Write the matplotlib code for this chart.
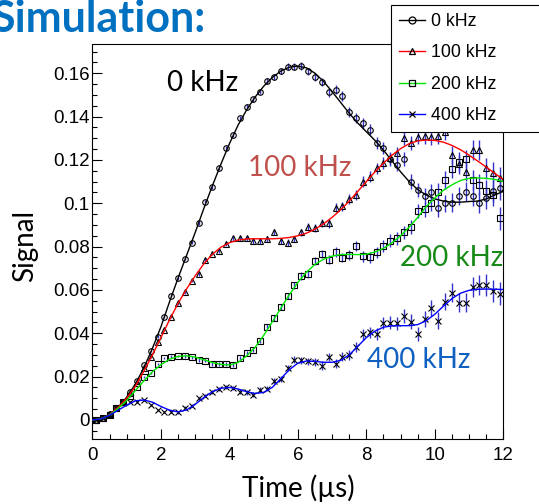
import numpy as np
from matplotlib import pyplot as plt
from matplotlib.ticker import MultipleLocator, FuncFormatter
from matplotlib.lines import Line2D

# sample times (us) of the simulated points and of the fitted curves
t = np.arange(0.1, 12.0, 0.2)
t_fit = np.arange(0.0, 12.01, 0.25)

labels = ["0 kHz", "100 kHz", "200 kHz", "400 kHz"]

sig0 = [0.0000, 0.0008, 0.0028, 0.0057, 0.0085, 0.0128, 0.0180, 0.0254, 0.0318, 0.0385,
        0.0477, 0.0574, 0.0654, 0.0743, 0.0818, 0.0908, 0.1007, 0.1077, 0.1161, 0.1254,
        0.1315, 0.1392, 0.1446, 0.1480, 0.1515, 0.1564, 0.1584, 0.1612, 0.1630, 0.1630,
        0.1634, 0.1609, 0.1584, 0.1560, 0.1512, 0.1524, 0.1496, 0.1423, 0.1393, 0.1369,
        0.1340, 0.1279, 0.1254, 0.1203, 0.1177, 0.1204, 0.1100, 0.1061, 0.1034, 0.1054,
        0.0977, 0.1000, 0.1003, 0.1034, 0.1054, 0.1034, 0.1003, 0.1023, 0.1058, 0.1069]
sig100 = [0.0000, 0.0008, 0.0028, 0.0055, 0.0085, 0.0124, 0.0169, 0.0238, 0.0292, 0.0358,
          0.0414, 0.0477, 0.0538, 0.0589, 0.0643, 0.0674, 0.0738, 0.0768, 0.0780, 0.0814,
          0.0838, 0.0838, 0.0838, 0.0826, 0.0826, 0.0835, 0.0869, 0.0826, 0.0818, 0.0835,
          0.0866, 0.0892, 0.0885, 0.0908, 0.0908, 0.0980, 0.0985, 0.1020, 0.1038, 0.1100,
          0.1123, 0.1161, 0.1185, 0.1208, 0.1231, 0.1300, 0.1277, 0.1308, 0.1311, 0.1308,
          0.1311, 0.1330, 0.1223, 0.1180, 0.1146, 0.1246, 0.1246, 0.1161, 0.1138, 0.1115]
sig200 = [0.0000, 0.0008, 0.0023, 0.0054, 0.0082, 0.0112, 0.0154, 0.0197, 0.0218, 0.0258,
          0.0285, 0.0292, 0.0295, 0.0295, 0.0289, 0.0277, 0.0274, 0.0257, 0.0257, 0.0257,
          0.0252, 0.0284, 0.0307, 0.0325, 0.0366, 0.0430, 0.0472, 0.0520, 0.0573, 0.0622,
          0.0665, 0.0673, 0.0735, 0.0766, 0.0740, 0.0775, 0.0749, 0.0762, 0.0803, 0.0755,
          0.0750, 0.0773, 0.0803, 0.0827, 0.0838, 0.0865, 0.0889, 0.0964, 0.0972, 0.1000,
          0.1054, 0.1107, 0.1160, 0.1192, 0.1202, 0.1108, 0.1085, 0.1058, 0.1040, 0.0931]
sig400 = [0.0000, 0.0008, 0.0023, 0.0054, 0.0077, 0.0082, 0.0082, 0.0092, 0.0069, 0.0046,
          0.0038, 0.0038, 0.0035, 0.0057, 0.0066, 0.0100, 0.0112, 0.0128, 0.0142, 0.0152,
          0.0146, 0.0131, 0.0127, 0.0117, 0.0140, 0.0145, 0.0178, 0.0187, 0.0240, 0.0277,
          0.0275, 0.0270, 0.0266, 0.0251, 0.0290, 0.0259, 0.0292, 0.0301, 0.0336, 0.0396,
          0.0405, 0.0397, 0.0449, 0.0449, 0.0446, 0.0480, 0.0454, 0.0397, 0.0465, 0.0515,
          0.0457, 0.0546, 0.0588, 0.0541, 0.0541, 0.0612, 0.0623, 0.0623, 0.0597, 0.0582]

err = [0.0002, 0.0002, 0.0003, 0.0003, 0.0003, 0.0004, 0.0004, 0.0004, 0.0005, 0.0005,
       0.0005, 0.0006, 0.0006, 0.0007, 0.0007, 0.0008, 0.0008, 0.0009, 0.0009, 0.0010,
       0.0010, 0.0011, 0.0011, 0.0012, 0.0012, 0.0013, 0.0014, 0.0014, 0.0015, 0.0016,
       0.0017, 0.0017, 0.0018, 0.0019, 0.0020, 0.0021, 0.0022, 0.0023, 0.0024, 0.0025,
       0.0026, 0.0027, 0.0028, 0.0029, 0.0030, 0.0032, 0.0033, 0.0034, 0.0036, 0.0037,
       0.0039, 0.0040, 0.0042, 0.0043, 0.0045, 0.0046, 0.0048, 0.0050, 0.0051, 0.0053]

fit0 = [0.0, 0.0005, 0.0025, 0.0058, 0.0105, 0.0165, 0.0240, 0.0330, 0.0430, 0.0545,
        0.0655, 0.0760, 0.0865, 0.0975, 0.1080, 0.1180, 0.1275, 0.1360, 0.1430, 0.1490,
        0.1540, 0.1580, 0.1610, 0.1628, 0.1633, 0.1625, 0.1600, 0.1562, 0.1515, 0.1465,
        0.1415, 0.1370, 0.1330, 0.1290, 0.1245, 0.1195, 0.1145, 0.1100, 0.1063, 0.1038,
        0.1020, 0.1010, 0.1005, 0.1005, 0.1008, 0.1010, 0.1020, 0.1038, 0.1055]
fit100 = [0.0, 0.0005, 0.0025, 0.0058, 0.0100, 0.0155, 0.0225, 0.0300, 0.0380, 0.0462,
          0.0538, 0.0605, 0.0665, 0.0720, 0.0764, 0.0797, 0.0818, 0.0830, 0.0835, 0.0836,
          0.0836, 0.0836, 0.0838, 0.0842, 0.0850, 0.0862, 0.0880, 0.0905, 0.0935, 0.0970,
          0.1010, 0.1055, 0.1100, 0.1145, 0.1185, 0.1222, 0.1252, 0.1275, 0.1288, 0.1292,
          0.1290, 0.1282, 0.1267, 0.1247, 0.1222, 0.1195, 0.1167, 0.1138, 0.1110]
fit200 = [0.0, 0.0005, 0.0023, 0.0053, 0.0090, 0.0135, 0.0180, 0.0222, 0.0255, 0.0280,
          0.0293, 0.0296, 0.0290, 0.0278, 0.0265, 0.0256, 0.0253, 0.0265, 0.0295, 0.0335,
          0.0390, 0.0452, 0.0515, 0.0578, 0.0635, 0.0682, 0.0718, 0.0742, 0.0756, 0.0763,
          0.0764, 0.0763, 0.0765, 0.0775, 0.0792, 0.0818, 0.0850, 0.0890, 0.0935, 0.0985,
          0.1025, 0.1060, 0.1085, 0.1105, 0.1115, 0.1117, 0.1115, 0.1110, 0.1100]
fit400 = [0.0, 0.0005, 0.0022, 0.0045, 0.0068, 0.0088, 0.0092, 0.0082, 0.0062, 0.0045,
          0.0037, 0.0046, 0.0072, 0.0103, 0.0130, 0.0146, 0.0150, 0.0143, 0.0130, 0.0122,
          0.0127, 0.0150, 0.0190, 0.0232, 0.0262, 0.0272, 0.0270, 0.0266, 0.0266, 0.0275,
          0.0300, 0.0340, 0.0380, 0.0410, 0.0428, 0.0434, 0.0435, 0.0435, 0.0440, 0.0458,
          0.0488, 0.0525, 0.0560, 0.0585, 0.0598, 0.0603, 0.0604, 0.0603, 0.0602]

signals = [sig0, sig100, sig200, sig400]
fits = [fit0, fit100, fit200, fit400]
line_colors = ["black", "#ff0000", "#00e600", "#0000ff"]
markers = ["o", "^", "s", "x"]
text_colors = ["black", "#c0504d", "#178a17", "#1060c0"]

HELV = ["Liberation Sans", "DejaVu Sans"]
CAL = ["Lato", "DejaVu Sans"]

fig = plt.figure(figsize=(5.39, 5.04), dpi=100)
ax = fig.add_axes([0.1716, 0.1290, 0.7622, 0.7837])

for sig, fit, lc, m in zip(signals, fits, line_colors, markers):
    ax.errorbar(t, sig, yerr=err, fmt="none", ecolor="#3333cc", elinewidth=1.0, zorder=2)
    ax.plot(t, sig, linestyle="none", marker=m, mfc="none", mec="black",
            ms=4.5 if m == "x" else 4, mew=0.8, zorder=3)
    ax.plot(t_fit, fit, color=lc, lw=1.0, zorder=4)

ax.set_xlim(0, 12)
ax.set_ylim(-0.0088, 0.1735)
ax.xaxis.set_major_locator(MultipleLocator(2))
ax.xaxis.set_minor_locator(MultipleLocator(0.5))
ax.yaxis.set_major_locator(MultipleLocator(0.02))
ax.yaxis.set_minor_locator(MultipleLocator(0.005))
ax.yaxis.set_major_formatter(FuncFormatter(lambda v, p: "%g" % round(v, 4)))
ax.tick_params(which="both", direction="in", top=False, right=False, width=0.8)
ax.tick_params(which="major", length=7)
ax.tick_params(which="minor", length=3.8)
ax.tick_params(axis="x", pad=6)
ax.tick_params(axis="y", pad=2)
for lab in ax.get_xticklabels() + ax.get_yticklabels():
    lab.set_family(HELV)
    lab.set_fontsize(13.5)
for s in ax.spines.values():
    s.set_linewidth(0.8)

ax.set_xlabel("Time (\u00b5s)", family=CAL, fontsize=20, va="baseline")
ax.xaxis.set_label_coords(0.5, -0.147)
ax.set_ylabel("Signal", family=CAL, fontsize=20, va="baseline")
ax.yaxis.set_label_coords(-0.145, 0.49)

# curve labels
ax.text(2.185, 0.1518, labels[0], family=CAL, fontsize=20, color=text_colors[0])
ax.text(4.55, 0.1126, labels[1], family=CAL, fontsize=20, color=text_colors[1])
ax.text(8.98, 0.0711, labels[2], family=CAL, fontsize=20, color=text_colors[2])
ax.text(8.01, 0.0239, labels[3], family=CAL, fontsize=20, color=text_colors[3])

fig.text(-9 / 539, 1 - 31.6 / 504, "Simulation:", family=CAL, fontsize=31,
         weight="bold", color="#0070c0", va="baseline")

handles = [Line2D([], [], color=lc, lw=1.0, marker=m, mfc="none", mec="black", ms=5, mew=0.9)
           for lc, m in zip(line_colors, markers)]
leg = fig.legend(handles, labels, loc="upper left", mode="expand",
                 bbox_to_anchor=(390.5 / 539, 1 - 132 / 504, 0.4, 127 / 504),
                 borderaxespad=0, prop={"family": HELV, "size": 12.8},
                 handlelength=1.5, handletextpad=0.35, borderpad=0.45,
                 labelspacing=0.81, fancybox=False, framealpha=1)
leg.get_frame().set_edgecolor("black")
leg.get_frame().set_linewidth(0.8)

fig.savefig("out.png", dpi=100)
